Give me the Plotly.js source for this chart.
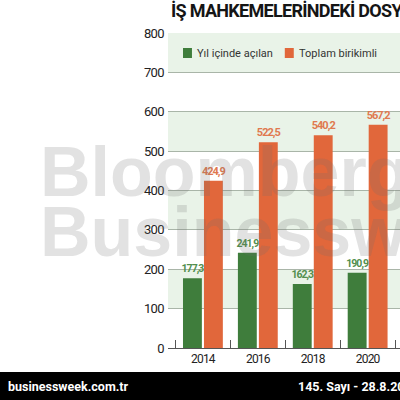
<!DOCTYPE html>
<html>
<head>
<meta charset="utf-8">
<script src="https://cdn.plot.ly/plotly-3.0.1.min.js"></script>
<style>
html,body{margin:0;padding:0;overflow:hidden;width:400px;height:400px;background:#fff;}
#chart{width:500px;height:400px;}
#chart .gtitle{letter-spacing:-0.7px;}
#chart .xtick text{letter-spacing:-0.8px;}
#chart .ytick text{letter-spacing:-0.6px;}
#chart .bartext{letter-spacing:-1px;}
</style>
</head>
<body>
<div id="chart"></div>
<script>
const years = ['2014', '2016', '2018', '2020', '2022'];
const acilan = [177.3, 241.9, 162.3, 190.9, 265];
const birikimli = [424.9, 522.5, 540.2, 567.2, null];
const seriesNames = ['Yıl içinde açılan', 'Toplam birikimli'];
const yTicks = [0, 100, 200, 300, 400, 500, 600, 700, 800];
const bands = [[100, 200], [300, 400], [500, 600], [700, 800]];
const titleText = 'İŞ MAHKEMELERİNDEKİ DOSYA';
const watermark = ['Bloomberg', 'Businessweek'];
const footer = ['businessweek.com.tr', '145. Sayı - 28.8.20'];

const GREEN = '#3f7d3c';
const ORANGE = '#e1673b';
const FONT = 'Roboto, "Liberation Sans", Arial, sans-serif';
const WFONT = '"Liberation Sans", Arial, sans-serif';

const traces = [
  {
    type: 'bar', name: seriesNames[0], x: years, y: acilan, showlegend: false,
    marker: {color: GREEN},
    texttemplate: '%{y:.1f}', textposition: 'outside', cliponaxis: false, constraintext: 'none',
    textfont: {family: FONT, size: 10.5, color: '#528f4e', weight: 'bold'},
    hoverinfo: 'skip'
  },
  {
    type: 'bar', name: seriesNames[1], x: years, y: birikimli, showlegend: false,
    marker: {color: ORANGE},
    texttemplate: '%{y:.1f}', textposition: 'outside', cliponaxis: false, constraintext: 'none',
    textfont: {family: FONT, size: 11, color: '#e0794f', weight: 'bold'},
    hoverinfo: 'skip'
  }
];

const L = 168, PW = 282.5, T = 33, PH = 315;
const px = v => (v - L) / PW;
const py = v => (T + PH - v) / PH;

const shapes = bands.map(b => ({
  type: 'rect', xref: 'paper', yref: 'y', x0: 0, x1: 1, y0: b[0], y1: b[1],
  fillcolor: '#e9f3e8', line: {width: 0}, layer: 'below'
}));
// legend swatches
shapes.push({type: 'rect', xref: 'paper', yref: 'paper', x0: px(183), x1: px(192), y0: py(58), y1: py(48),
             fillcolor: GREEN, line: {width: 0}});
shapes.push({type: 'rect', xref: 'paper', yref: 'paper', x0: px(285), x1: px(294), y0: py(58), y1: py(48),
             fillcolor: ORANGE, line: {width: 0}});
// footer bar
shapes.push({
  type: 'rect', xref: 'paper', yref: 'paper', x0: px(-10), x1: px(520), y0: py(372), y1: py(410),
  fillcolor: '#000', line: {width: 0}, layer: 'above'
});

const annotations = [
  {text: seriesNames[0], xref: 'paper', yref: 'paper', x: px(195), y: py(53), xanchor: 'left', yanchor: 'middle',
   showarrow: false, font: {family: FONT, size: 11, color: '#333'}},
  {text: seriesNames[1], xref: 'paper', yref: 'paper', x: px(297), y: py(53), xanchor: 'left', yanchor: 'middle',
   showarrow: false, font: {family: FONT, size: 11, color: '#333'}},
  {text: watermark[0], xref: 'paper', yref: 'paper', x: px(38), y: py(172), xanchor: 'left', yanchor: 'middle',
   showarrow: false, font: {family: WFONT, size: 70, weight: 'bold', color: 'rgba(110,110,110,0.2)'}},
  {text: watermark[1], xref: 'paper', yref: 'paper', x: px(38), y: py(232), xanchor: 'left', yanchor: 'middle',
   showarrow: false, font: {family: WFONT, size: 70, weight: 'bold', color: 'rgba(110,110,110,0.2)'}},
  {text: footer[0], xref: 'paper', yref: 'paper', x: px(6), y: py(386), xanchor: 'left', yanchor: 'middle',
   showarrow: false, font: {family: FONT, size: 12.5, weight: 'bold', color: '#fff'}},
  {text: footer[1], xref: 'paper', yref: 'paper', x: px(296), y: py(386), xanchor: 'left', yanchor: 'middle',
   showarrow: false, font: {family: FONT, size: 12.5, weight: 'bold', color: '#fff'}}
];

const layout = {
  width: 500, height: 400,
  margin: {l: L, r: 500 - L - PW, t: T, b: 400 - T - PH, pad: 0},
  paper_bgcolor: '#fff', plot_bgcolor: '#fff',
  separators: ',.',
  showlegend: false,
  title: {text: titleText, xref: 'container', yref: 'container', x: 171 / 500, xanchor: 'left',
          y: 1 - 4 / 400, yanchor: 'top',
          font: {family: FONT, size: 18, weight: 'bold', color: '#151515'}},
  barmode: 'group', bargap: 0.236, bargroupgap: 0.1,
  xaxis: {type: 'category', range: [-0.636, 4.5], tickson: 'boundaries', ticks: 'inside', ticklen: 8,
          tickcolor: '#555', showline: true, linecolor: '#555', linewidth: 1, showgrid: false,
          tickfont: {family: FONT, size: 12, color: '#222'}, fixedrange: true},
  yaxis: {range: [0, 800], tickvals: yTicks, ticks: '', showline: false, gridcolor: '#a9b5a8', gridwidth: 1,
          zeroline: false, ticklabelstandoff: 3,
          tickfont: {family: FONT, size: 13, color: '#222'}, fixedrange: true},
  shapes: shapes,
  annotations: annotations
};

Plotly.newPlot('chart', traces, layout, {displayModeBar: false, staticPlot: true});
</script>
</body>
</html>
